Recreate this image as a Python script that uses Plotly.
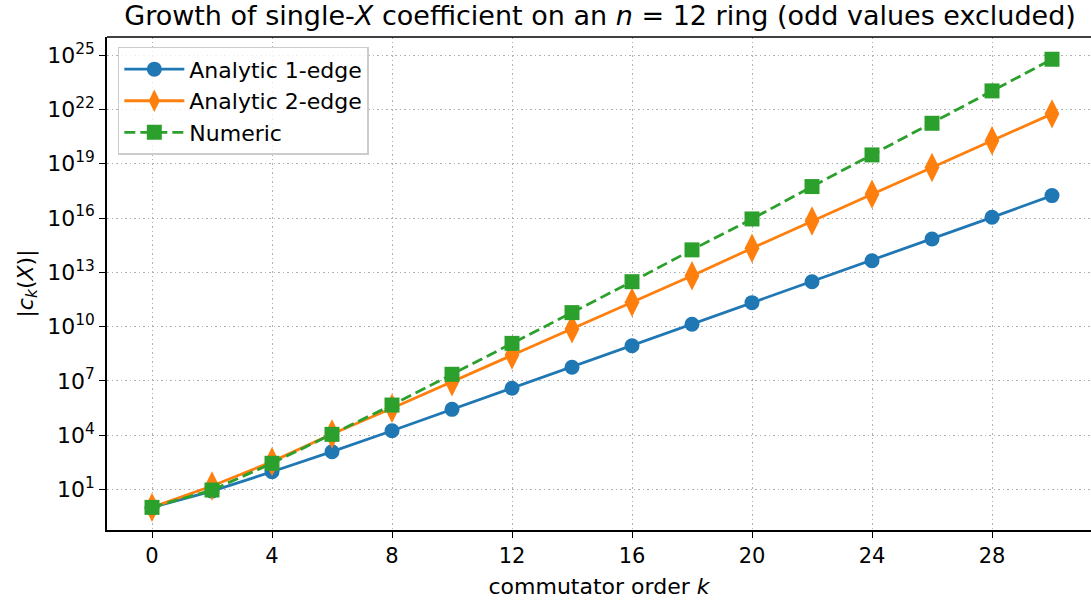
import plotly.graph_objects as go

k = [0, 2, 4, 6, 8, 10, 12, 14, 16, 18, 20, 22, 24, 26, 28, 30]
log_one_edge = [0.0, 0.9, 1.97, 3.08, 4.24, 5.42, 6.59, 7.75, 8.94, 10.13, 11.32, 12.48, 13.64, 14.84, 16.04, 17.24]
log_two_edge = [0.0, 1.18, 2.53, 4.06, 5.48, 6.95, 8.43, 9.87, 11.34, 12.81, 14.33, 15.84, 17.32, 18.79, 20.28, 21.76]
log_numeric = [0.0, 0.96, 2.44, 4.04, 5.66, 7.36, 9.07, 10.77, 12.48, 14.24, 15.95, 17.74, 19.49, 21.24, 23.03, 24.78]

one_edge = [10.0 ** v for v in log_one_edge]
two_edge = [10.0 ** v for v in log_two_edge]
numeric = [10.0 ** v for v in log_numeric]

x_ticks = [0, 4, 8, 12, 16, 20, 24, 28]
y_exps = [1, 4, 7, 10, 13, 16, 19, 22, 25]

FONT = "DejaVu Sans"

fig = go.Figure()
fig.add_trace(go.Scatter(
    x=k, y=one_edge, mode="lines+markers", name="Analytic 1-edge",
    line=dict(color="#1f77b4", width=2.8),
    marker=dict(symbol="circle", size=15, color="#1f77b4"),
))
fig.add_trace(go.Scatter(
    x=k, y=two_edge, mode="lines+markers", name="Analytic 2-edge",
    line=dict(color="#ff7f0e", width=2.8),
    marker=dict(symbol="diamond-tall", size=21, color="#ff7f0e"),
))
fig.add_trace(go.Scatter(
    x=k, y=numeric, mode="lines+markers", name="Numeric",
    line=dict(color="#2ca02c", width=2.8, dash="11px,5px"),
    marker=dict(symbol="square", size=15, color="#2ca02c"),
))

fig.update_layout(
    width=1091, height=604,
    margin=dict(l=107, r=0, t=37, b=74),
    paper_bgcolor="white", plot_bgcolor="white",
    font=dict(family=FONT, size=21, color="black"),
    title=dict(
        text="Growth of single-<i>X</i> coefficient on an <i>n</i> = 12 ring (odd values excluded)",
        x=0.55, xanchor="center", y=0.975, yanchor="middle",
        font=dict(family=FONT, size=27, color="black"),
    ),
    showlegend=True,
    legend=dict(
        x=0.011, y=0.98, xanchor="left", yanchor="top",
        bgcolor="rgba(255,255,255,0.8)", bordercolor="#cccccc", borderwidth=1.5,
        font=dict(family=FONT, size=22), itemwidth=60,
    ),
)

fig.update_xaxes(
    range=[-1.5, 31.3],
    tickvals=x_ticks, ticktext=[str(v) for v in x_ticks],
    tickfont=dict(family=FONT, size=21),
    showgrid=True, gridcolor="#b0b0b0", griddash="1.5px,3px", gridwidth=1.3,
    showline=True, linecolor="black", linewidth=1.5, mirror=False,
    ticks="outside", ticklen=6, tickwidth=1.2, tickcolor="black",
    zeroline=False,
    title=dict(text="commutator order <i>k</i>", font=dict(family=FONT, size=22), standoff=12),
)
fig.update_yaxes(
    type="log", range=[-1.25, 26.01],
    tickvals=[10.0 ** e for e in y_exps],
    ticktext=["10<sup>%d</sup>" % e for e in y_exps],
    tickfont=dict(family=FONT, size=22),
    showgrid=True, gridcolor="#b0b0b0", griddash="1.5px,3px", gridwidth=1.3,
    showline=True, linecolor="black", linewidth=1.5, mirror=False,
    ticks="outside", ticklen=6, tickwidth=1.2, tickcolor="black",
    zeroline=False,
    title=dict(text="|<i>c<sub>k</sub></i>(<i>X</i>)|", font=dict(family=FONT, size=22), standoff=8),
)

# top frame line (right side of the frame lies outside the picture)
fig.add_shape(type="line", xref="paper", yref="paper", x0=0, x1=1, y0=1, y1=1,
              line=dict(color="black", width=1.5))

fig.write_html("out.html")
